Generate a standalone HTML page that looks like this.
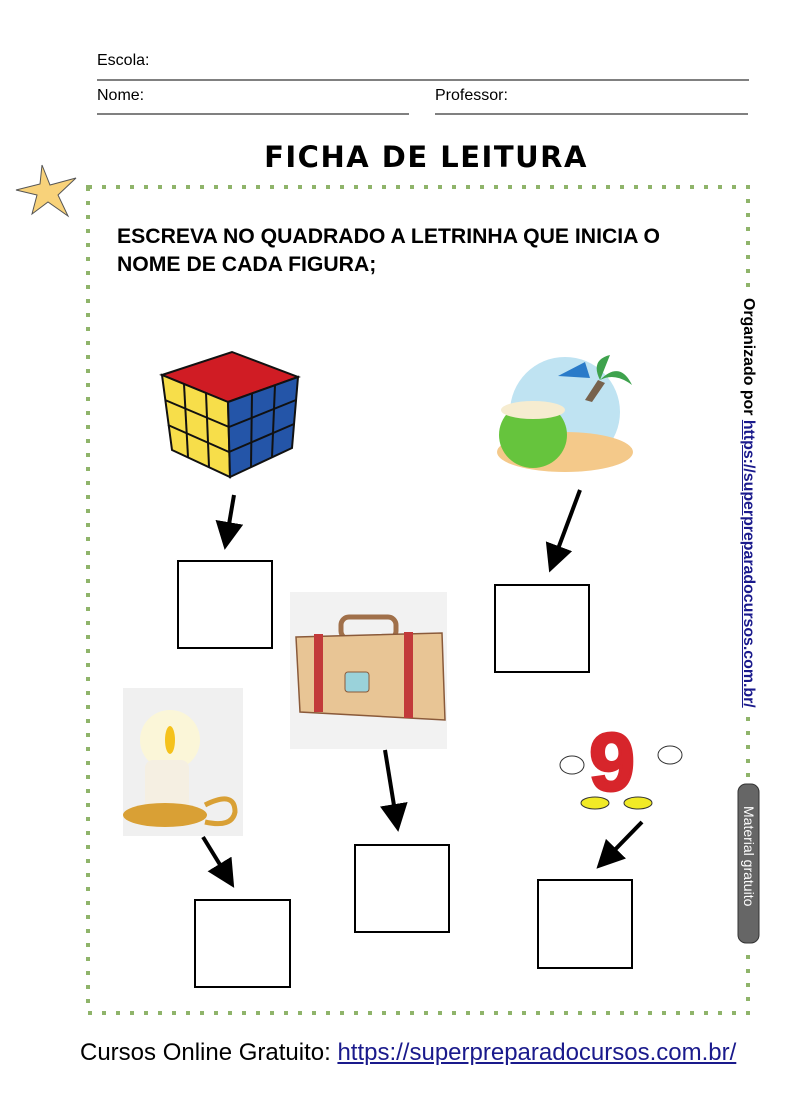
<!DOCTYPE html>
<html><head><meta charset="utf-8"><style>
body{margin:0;width:802px;height:1096px;background:#fff;position:relative;overflow:hidden;font-family:"Liberation Sans",sans-serif}
.t{position:absolute;white-space:nowrap}
</style></head><body>
<svg width="802" height="1096" style="position:absolute;left:0;top:0">
<g stroke="#000" stroke-width="1">
<line x1="97" y1="80" x2="749" y2="80"/><line x1="97" y1="114" x2="409" y2="114"/><line x1="435" y1="114" x2="748" y2="114"/></g>
<rect x="88" y="187" width="660" height="826" fill="none" stroke="#8fb46a" stroke-width="4" stroke-dasharray="4 10"/>
<rect x="740" y="296" width="16" height="420" fill="#fff"/>
<rect x="740" y="780" width="16" height="168" fill="#fff"/>
<polygon points="42,165 50,185 76,178 58,195 68,216 48,202 32,214 37,195 16,190 40,184" fill="#f8d27a" stroke="#555" stroke-width="1"/>
<polygon points="162,375 232,352 298,377 228,402" fill="#d01c24" stroke="#111" stroke-width="2"/>
<polygon points="162,375 228,402 230,477 172,450" fill="#f7de4a" stroke="#111" stroke-width="2"/>
<polygon points="228,402 298,377 292,448 230,477" fill="#2455a8" stroke="#111" stroke-width="2"/>
<g stroke="#111" stroke-width="2"><line x1="184" y1="384" x2="188" y2="457"/><line x1="206" y1="393" x2="209" y2="467"/><line x1="165" y1="400" x2="229" y2="427"/><line x1="168" y1="425" x2="229" y2="452"/><line x1="252" y1="393" x2="251" y2="467"/><line x1="275" y1="385" x2="272" y2="457"/><line x1="229" y1="427" x2="296" y2="400"/><line x1="229" y1="452" x2="294" y2="424"/></g>
<circle cx="565" cy="412" r="55" fill="#bfe3f2"/>
<ellipse cx="565" cy="452" rx="68" ry="20" fill="#f4c98a"/>
<ellipse cx="533" cy="435" rx="34" ry="33" fill="#66c43d"/>
<ellipse cx="533" cy="410" rx="32" ry="9" fill="#f6ecd0"/>
<path d="M585,400 L598,380 L605,383 L592,402Z" fill="#77624d"/>
<path d="M600,380 Q620,360 632,385 Q615,372 600,380 Q590,360 610,355" fill="#3ea24d"/>
<polygon points="558,376 585,362 590,378" fill="#2a7bc9"/>
<rect x="290" y="592" width="157" height="157" fill="#f2f2f2"/>
<rect x="341" y="617" width="55" height="22" rx="8" fill="none" stroke="#a0704a" stroke-width="5"/>
<path d="M296,637 L442,633 L445,720 L300,712Z" fill="#e8c595" stroke="#8a5a3a" stroke-width="1.5"/>
<rect x="314" y="634" width="9" height="78" fill="#c23a3a"/><rect x="404" y="632" width="9" height="86" fill="#c23a3a"/>
<rect x="345" y="672" width="24" height="20" rx="3" fill="#9ad2da" stroke="#8a5a3a"/>
<rect x="123" y="688" width="120" height="148" fill="#f0f0f0"/>
<circle cx="170" cy="740" r="30" fill="#fbf6d8"/>
<ellipse cx="170" cy="740" rx="5" ry="14" fill="#f5c21b"/>
<rect x="145" y="760" width="44" height="52" rx="8" fill="#f5efe2"/>
<ellipse cx="165" cy="815" rx="42" ry="12" fill="#d9a035"/>
<path d="M205,805 Q235,790 235,812 Q232,828 205,822" fill="none" stroke="#d9a035" stroke-width="5"/>
<text x="612" y="790" font-family="Liberation Sans" font-weight="bold" font-size="82" fill="#d7252b" text-anchor="middle" stroke="#d7252b" stroke-width="3">9</text>
<g fill="#fff" stroke="#333"><ellipse cx="572" cy="765" rx="12" ry="9"/><ellipse cx="670" cy="755" rx="12" ry="9"/></g>
<g fill="#f1ea26" stroke="#333"><ellipse cx="595" cy="803" rx="14" ry="6"/><ellipse cx="638" cy="803" rx="14" ry="6"/></g>
<g fill="none" stroke="#000" stroke-width="2">
<rect x="178" y="561" width="94" height="87"/><rect x="495" y="585" width="94" height="87"/>
<rect x="355" y="845" width="94" height="87"/><rect x="195" y="900" width="95" height="87"/><rect x="538" y="880" width="94" height="88"/></g>
<defs><marker id="a" markerWidth="7" markerHeight="7" refX="5" refY="3.5" orient="auto" markerUnits="strokeWidth"><path d="M0,0 L7,3.5 L0,7Z" fill="#000"/></marker></defs>
<g stroke="#000" stroke-width="4" marker-end="url(#a)">
<line x1="234" y1="495" x2="226" y2="542"/><line x1="580" y1="490" x2="552" y2="565"/>
<line x1="385" y1="750" x2="397" y2="824"/><line x1="203" y1="837" x2="230" y2="881"/><line x1="642" y1="822" x2="602" y2="863"/></g>
<rect x="738" y="784" width="21" height="159" rx="8" fill="#666" stroke="#333"/>
</svg>
<div class="t" style="left:97px;top:52px;font-size:16px">Escola:</div>
<div class="t" style="left:97px;top:87px;font-size:16px">Nome:</div>
<div class="t" style="left:435px;top:87px;font-size:16px">Professor:</div>
<div class="t" style="left:250px;top:140px;width:352px;text-align:center;font-family:'DejaVu Sans',sans-serif;font-weight:bold;font-size:29px;letter-spacing:1.5px">FICHA DE LEITURA</div>
<div class="t" style="left:117px;top:223px;font-size:21.2px;font-weight:bold;line-height:28px">ESCREVA NO QUADRADO A LETRINHA QUE INICIA O<br>NOME DE CADA FIGURA;</div>
<div class="t" style="left:748px;top:298px;transform-origin:0 0;transform:rotate(90deg) translate(0,-10px);font-size:15.9px;font-weight:bold;line-height:19px">Organizado por <span style="color:#1a1a8c;text-decoration:underline">https://superpreparadocursos.com.br/</span></div>
<div class="t" style="left:758px;top:806px;transform-origin:0 0;transform:rotate(90deg);font-size:14px;color:#fff;line-height:19px">Material gratuito</div>
<div class="t" style="left:80px;top:1039px;font-size:24px">Cursos Online Gratuito: <span style="color:#1a1a8c;text-decoration:underline">https://superpreparadocursos.com.br/</span></div>
</body></html>
